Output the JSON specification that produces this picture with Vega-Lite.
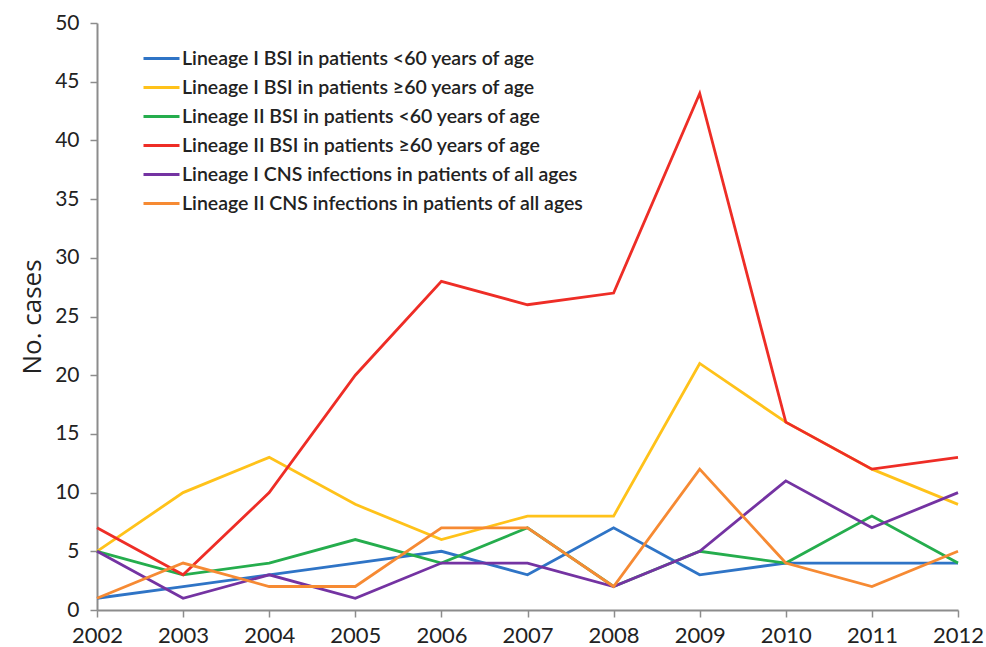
{
  "$schema": "https://vega.github.io/schema/vega-lite/v6.json",
  "width": 861,
  "height": 587,
  "autosize": "none",
  "padding": {"left": 97, "top": 23, "right": 28, "bottom": 37},
  "background": "white",
  "config": {"view": {"stroke": null}, "font": "Lato"},
  "data": {"values": [
    {"s": "Lineage I BSI in patients <60 years of age", "year": 2002, "n": 1},
    {"s": "Lineage I BSI in patients <60 years of age", "year": 2003, "n": 2},
    {"s": "Lineage I BSI in patients <60 years of age", "year": 2004, "n": 3},
    {"s": "Lineage I BSI in patients <60 years of age", "year": 2005, "n": 4},
    {"s": "Lineage I BSI in patients <60 years of age", "year": 2006, "n": 5},
    {"s": "Lineage I BSI in patients <60 years of age", "year": 2007, "n": 3},
    {"s": "Lineage I BSI in patients <60 years of age", "year": 2008, "n": 7},
    {"s": "Lineage I BSI in patients <60 years of age", "year": 2009, "n": 3},
    {"s": "Lineage I BSI in patients <60 years of age", "year": 2010, "n": 4},
    {"s": "Lineage I BSI in patients <60 years of age", "year": 2011, "n": 4},
    {"s": "Lineage I BSI in patients <60 years of age", "year": 2012, "n": 4},
    {"s": "Lineage I BSI in patients ≥60 years of age", "year": 2002, "n": 5},
    {"s": "Lineage I BSI in patients ≥60 years of age", "year": 2003, "n": 10},
    {"s": "Lineage I BSI in patients ≥60 years of age", "year": 2004, "n": 13},
    {"s": "Lineage I BSI in patients ≥60 years of age", "year": 2005, "n": 9},
    {"s": "Lineage I BSI in patients ≥60 years of age", "year": 2006, "n": 6},
    {"s": "Lineage I BSI in patients ≥60 years of age", "year": 2007, "n": 8},
    {"s": "Lineage I BSI in patients ≥60 years of age", "year": 2008, "n": 8},
    {"s": "Lineage I BSI in patients ≥60 years of age", "year": 2009, "n": 21},
    {"s": "Lineage I BSI in patients ≥60 years of age", "year": 2010, "n": 16},
    {"s": "Lineage I BSI in patients ≥60 years of age", "year": 2011, "n": 12},
    {"s": "Lineage I BSI in patients ≥60 years of age", "year": 2012, "n": 9},
    {"s": "Lineage II BSI in patients <60 years of age", "year": 2002, "n": 5},
    {"s": "Lineage II BSI in patients <60 years of age", "year": 2003, "n": 3},
    {"s": "Lineage II BSI in patients <60 years of age", "year": 2004, "n": 4},
    {"s": "Lineage II BSI in patients <60 years of age", "year": 2005, "n": 6},
    {"s": "Lineage II BSI in patients <60 years of age", "year": 2006, "n": 4},
    {"s": "Lineage II BSI in patients <60 years of age", "year": 2007, "n": 7},
    {"s": "Lineage II BSI in patients <60 years of age", "year": 2008, "n": 2},
    {"s": "Lineage II BSI in patients <60 years of age", "year": 2009, "n": 5},
    {"s": "Lineage II BSI in patients <60 years of age", "year": 2010, "n": 4},
    {"s": "Lineage II BSI in patients <60 years of age", "year": 2011, "n": 8},
    {"s": "Lineage II BSI in patients <60 years of age", "year": 2012, "n": 4},
    {"s": "Lineage II BSI in patients ≥60 years of age", "year": 2002, "n": 7},
    {"s": "Lineage II BSI in patients ≥60 years of age", "year": 2003, "n": 3},
    {"s": "Lineage II BSI in patients ≥60 years of age", "year": 2004, "n": 10},
    {"s": "Lineage II BSI in patients ≥60 years of age", "year": 2005, "n": 20},
    {"s": "Lineage II BSI in patients ≥60 years of age", "year": 2006, "n": 28},
    {"s": "Lineage II BSI in patients ≥60 years of age", "year": 2007, "n": 26},
    {"s": "Lineage II BSI in patients ≥60 years of age", "year": 2008, "n": 27},
    {"s": "Lineage II BSI in patients ≥60 years of age", "year": 2009, "n": 44},
    {"s": "Lineage II BSI in patients ≥60 years of age", "year": 2010, "n": 16},
    {"s": "Lineage II BSI in patients ≥60 years of age", "year": 2011, "n": 12},
    {"s": "Lineage II BSI in patients ≥60 years of age", "year": 2012, "n": 13},
    {"s": "Lineage I CNS infections in patients of all ages", "year": 2002, "n": 5},
    {"s": "Lineage I CNS infections in patients of all ages", "year": 2003, "n": 1},
    {"s": "Lineage I CNS infections in patients of all ages", "year": 2004, "n": 3},
    {"s": "Lineage I CNS infections in patients of all ages", "year": 2005, "n": 1},
    {"s": "Lineage I CNS infections in patients of all ages", "year": 2006, "n": 4},
    {"s": "Lineage I CNS infections in patients of all ages", "year": 2007, "n": 4},
    {"s": "Lineage I CNS infections in patients of all ages", "year": 2008, "n": 2},
    {"s": "Lineage I CNS infections in patients of all ages", "year": 2009, "n": 5},
    {"s": "Lineage I CNS infections in patients of all ages", "year": 2010, "n": 11},
    {"s": "Lineage I CNS infections in patients of all ages", "year": 2011, "n": 7},
    {"s": "Lineage I CNS infections in patients of all ages", "year": 2012, "n": 10},
    {"s": "Lineage II CNS infections in patients of all ages", "year": 2002, "n": 1},
    {"s": "Lineage II CNS infections in patients of all ages", "year": 2003, "n": 4},
    {"s": "Lineage II CNS infections in patients of all ages", "year": 2004, "n": 2},
    {"s": "Lineage II CNS infections in patients of all ages", "year": 2005, "n": 2},
    {"s": "Lineage II CNS infections in patients of all ages", "year": 2006, "n": 7},
    {"s": "Lineage II CNS infections in patients of all ages", "year": 2007, "n": 7},
    {"s": "Lineage II CNS infections in patients of all ages", "year": 2008, "n": 2},
    {"s": "Lineage II CNS infections in patients of all ages", "year": 2009, "n": 12},
    {"s": "Lineage II CNS infections in patients of all ages", "year": 2010, "n": 4},
    {"s": "Lineage II CNS infections in patients of all ages", "year": 2011, "n": 2},
    {"s": "Lineage II CNS infections in patients of all ages", "year": 2012, "n": 5}
  ]},
  "mark": {"type": "line", "strokeWidth": 2.8, "strokeJoin": "miter"},
  "encoding": {
    "x": {
      "field": "year", "type": "quantitative",
      "scale": {"domain": [2002, 2012], "nice": false, "zero": false},
      "axis": {
        "values": [2002, 2003, 2004, 2005, 2006, 2007, 2008, 2009, 2010, 2011, 2012],
        "format": "d", "grid": false, "title": null,
        "domainColor": "#8c8c8c", "domainWidth": 2, "tickColor": "#8c8c8c", "tickWidth": 1.5, "tickSize": 7,
        "labelFontSize": 22, "labelColor": "#222", "labelPadding": 8, "labelFlush": false
      }
    },
    "y": {
      "field": "n", "type": "quantitative",
      "scale": {"domain": [0, 50], "nice": false},
      "axis": {
        "values": [0, 5, 10, 15, 20, 25, 30, 35, 40, 45, 50],
        "grid": false, "title": "No. cases",
        "titleFont": "Open Sans", "titleFontSize": 26, "titleFontWeight": "normal", "titleColor": "#222", "titlePadding": 9,
        "domainColor": "#8c8c8c", "domainWidth": 2, "tickColor": "#8c8c8c", "tickWidth": 1.5, "tickSize": 7,
        "labelFontSize": 21, "labelColor": "#222", "labelPadding": 11
      }
    },
    "color": {
      "field": "s", "type": "nominal",
      "scale": {
        "domain": [
          "Lineage I BSI in patients <60 years of age",
          "Lineage I BSI in patients ≥60 years of age",
          "Lineage II BSI in patients <60 years of age",
          "Lineage II BSI in patients ≥60 years of age",
          "Lineage I CNS infections in patients of all ages",
          "Lineage II CNS infections in patients of all ages"
        ],
        "range": ["#2f74c6", "#ffc21a", "#25ad4d", "#ee2d26", "#7433a2", "#f68a33"]
      },
      "legend": {
        "title": null, "orient": "none", "legendX": 45, "legendY": 16,
        "symbolType": "stroke", "symbolSize": 1296, "symbolStrokeWidth": 3,
        "labelFontSize": 19.5, "labelColor": "#222", "labelFontWeight": 600, "labelOffset": 1,
        "rowPadding": -5.4, "labelLimit": 600
      }
    },
    "order": {"field": "year", "type": "quantitative"}
  }
}
